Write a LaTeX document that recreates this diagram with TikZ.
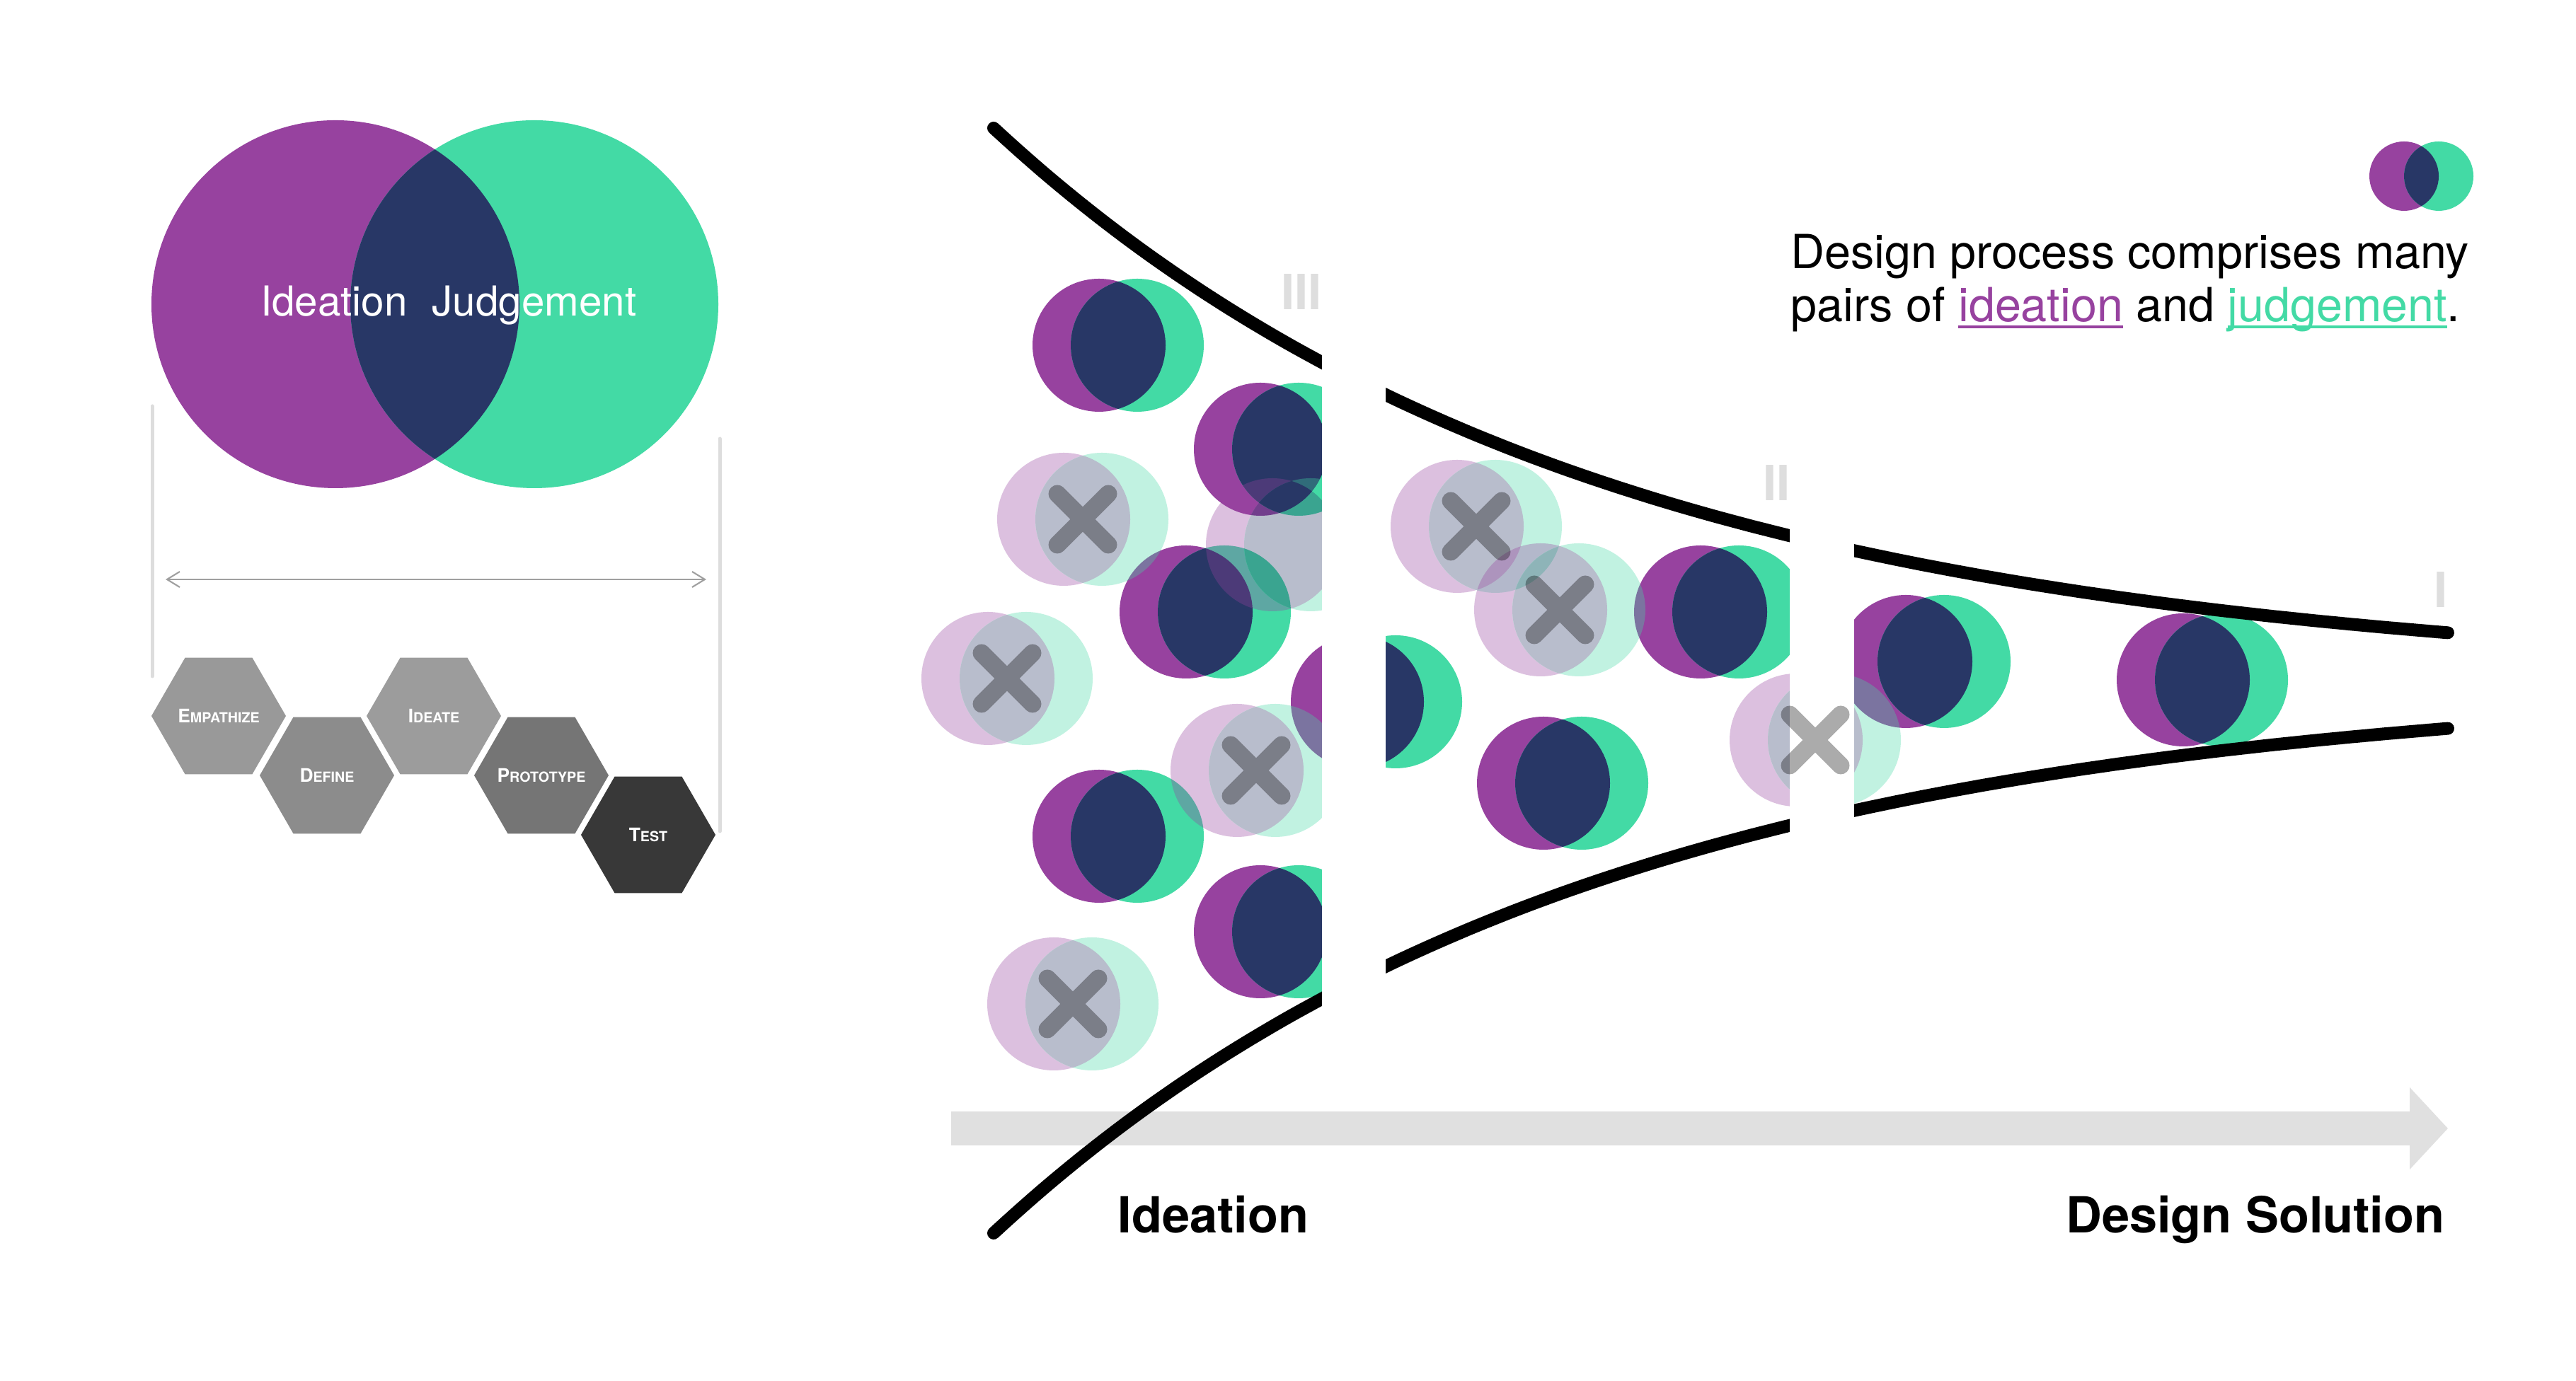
\documentclass[tikz,border=0pt]{standalone}
\usepackage{fontspec}
\setmainfont{TeX Gyre Heros}
\usepackage{tikz}
\usetikzlibrary{positioning, arrows.meta, shapes.geometric, calc}
\usepackage{xcolor}

\definecolor{ideacol}{HTML}{97429F}
\definecolor{judgecol}{HTML}{43DAA5}
\definecolor{bothcol}{HTML}{283766}
\definecolor{flowgray}{HTML}{E0E0E0}
\definecolor{linegray}{HTML}{DDDDDD}
\definecolor{stagegray}{HTML}{DEDEDE}

\newcommand{\hexlabel}[2]{\makebox[0pt]{{\fontsize{7.5}{8}\selectfont #1}{\fontsize{5.6}{6}\selectfont #2}}}
\newcommand{\ulword}[2]{\setbox0=\hbox{#2}\textcolor{#1}{\rlap{\rule[-0.13em]{\wd0}{0.05em}}\box0}}

\begin{document}
\begin{tikzpicture}[
  pair/.pic={
    \fill[ideacol] (-0.27,0) circle (0.94);
    \fill[judgecol] (0.27,0) circle (0.94);
    \begin{scope}
      \clip (-0.27,0) circle (0.94);
      \fill[bothcol] (0.27,0) circle (0.94);
    \end{scope}
  },
  cross/.pic={
    \draw[line width=0.25cm, line cap=round, black, draw opacity=0.33]
      (-0.36,-0.36) -- (0.36,0.36) (-0.36,0.36) -- (0.36,-0.36);
  },
  hexa/.style={regular polygon, regular polygon sides=6, minimum size=1.9cm, inner sep=0pt, text=white, font=\bfseries},
  funnel/.style={line width=0.18cm, line cap=round},
  stage/.style={stagegray, font=\fontsize{19.5}{20}\selectfont\bfseries, inner sep=0pt, anchor=base east},
  label/.style={font=\fontsize{20}{22}\selectfont\bfseries, inner sep=0pt},
]
\fill[white] (0,0) rectangle (36.4,19.52);
\useasboundingbox (0,0) rectangle (36.4,19.52);

% Ideation and judgement
\fill[ideacol] (4.74,15.22) circle (2.60);
\fill[judgecol] (7.55,15.22) circle (2.60);
\begin{scope}
  \clip (4.74,15.22) circle (2.60);
  \fill[bothcol] (7.55,15.22) circle (2.60);
\end{scope}
\node[white, anchor=base, font=\fontsize{16.6}{18}\selectfont] (idea) at (4.72,15.05) {Ideation};
\node[white, anchor=base, font=\fontsize{16.6}{18}\selectfont] (judge) at (7.55,15.05) {Judgement};

% Span
\draw[linegray, line width=0.05cm, line cap=round] (2.15,13.78) -- (2.15,9.96);
\draw[linegray, line width=0.05cm, line cap=round] (10.17,13.32) -- (10.17,7.77);
\coordinate (spanl) at (2.34,11.33);
\coordinate (spanr) at (9.98,11.33);
\draw[{Straight Barb[length=0.18cm,width=0.22cm]}-{Straight Barb[length=0.18cm,width=0.22cm]}, gray!75, line width=0.6pt] (spanl) -- (spanr);

% Design thinking steps
\node[hexa, fill=black!40] (emp) at (3.09,9.40) {\hexlabel{E}{MPATHIZE}};
\node[hexa, fill=black!45] (def) at (4.62,8.56) {\hexlabel{D}{EFINE}};
\node[hexa, fill=black!39] (ide) at (6.13,9.40) {\hexlabel{I}{DEATE}};
\node[hexa, fill=black!54] (pro) at (7.65,8.56) {\hexlabel{P}{ROTOTYPE}};
\node[hexa, fill=black!78] (tst) at (9.16,7.72) {\hexlabel{T}{EST}};

% Flow
\coordinate (flowstart) at (13.44,3.57);
\coordinate (flowend) at (34.59,3.57);
\draw[flowgray, line width=0.48cm, -{Triangle[length=0.54cm 0, width=1.13cm 0]}] (flowstart) -- (flowend);

% Pairs kept
\foreach \x/\y in {15.80/14.64, 18.08/13.17, 17.03/10.87, 15.80/7.70, 18.08/6.35,
                   19.45/9.60, 24.30/10.87, 22.08/8.45, 27.20/10.17, 31.12/9.91}
  \pic at (\x,\y) {pair};
% Pairs dropped
\foreach \x/\y in {15.30/12.18, 18.25/11.82, 14.23/9.93, 17.75/8.63, 15.16/5.33,
                   20.86/12.08, 22.04/10.90, 25.65/9.06} {
  \begin{scope}[transparency group, opacity=0.33]
    \pic at (\x,\y) {pair};
  \end{scope}
}

% Funnel
\draw[funnel] plot[domain=14.04:34.59, samples=120, smooth] (\x, {9.90+7.81*exp(-0.119*(\x-14.04))});
\draw[funnel] plot[domain=14.04:34.59, samples=120, smooth] (\x, {9.90-7.81*exp(-0.119*(\x-14.04))});
\fill[white] (18.68,5.0) rectangle (19.58,14.8);
\fill[white] (25.29,7.5) rectangle (26.20,12.3);

% Crosses
\foreach \x/\y in {15.30/12.18, 14.23/9.93, 17.75/8.63, 15.16/5.33,
                   20.86/12.08, 22.04/10.90, 25.65/9.06}
  \pic at (\x,\y) {cross};

% Stages
\node[stage] (s3) at (18.68,15.14) {III};
\node[stage] (s2) at (25.30,12.44) {II};
\node[stage] (s1) at (34.59,10.93) {I};

% Labels
\node[label, anchor=base west] (ideation) at (15.79,2.09) {Ideation};
\node[label, anchor=base east] (solution) at (34.55,2.09) {Design Solution};

% Legend
\fill[ideacol] (33.97,17.03) circle (0.49);
\fill[judgecol] (34.46,17.03) circle (0.49);
\begin{scope}
  \clip (33.97,17.03) circle (0.49);
  \fill[bothcol] (34.46,17.03) circle (0.49);
\end{scope}
\node[anchor=base west, inner sep=0pt, font=\fontsize{18.9}{20}\selectfont] (desc1) at (25.30,15.72) {Design process comprises many};
\node[anchor=base west, inner sep=0pt, font=\fontsize{18.9}{20}\selectfont] (desc2) at (25.30,14.97) {pairs of \ulword{ideacol}{ideation} and \ulword{judgecol}{judgement}.};
\end{tikzpicture}
\end{document}
